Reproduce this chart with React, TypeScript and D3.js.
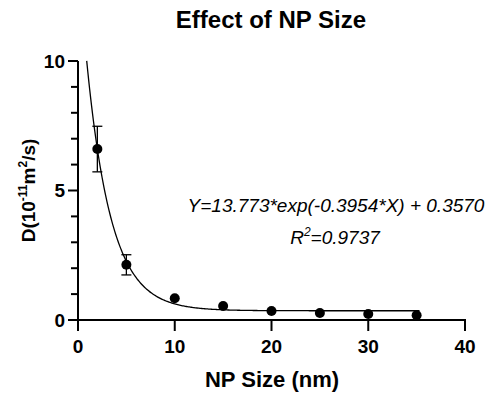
import React from 'react';
import * as d3 from 'd3';

// measured NP sizes (nm) and diffusion coefficients
const npSize = [2, 5, 10, 15, 20, 25, 30, 35];
const diffusion = [6.6, 2.13, 0.84, 0.54, 0.35, 0.27, 0.23, 0.18];
const errorBars = [0.88, 0.39, 0, 0, 0, 0, 0, 0];

// fitted one-phase decay, as printed on the chart
const fitParams = [13.773, 0.3954, 0.357];
const fitRange = [0.9, 35.3];

const xTicks = [0, 10, 20, 30, 40];
const yMajorTicks = [0, 5, 10];
const yMinorTicks = [1, 2, 3, 4, 6, 7, 8, 9];

const width = 489;
const height = 397;
const font = 'Arial, "Liberation Sans", sans-serif';

const App = () => {
    const x = d3.scaleLinear().domain([0, 40]).range([78, 465]);
    const y = d3.scaleLinear().domain([0, 10]).range([320, 61]);

    const fitPts = d3.range(fitRange[0], fitRange[1], 0.1).concat([fitRange[1]])
        .map(v => [v, fitParams[0] * Math.exp(-fitParams[1] * v) + fitParams[2]]);
    const line = d3.line().x(d => x(d[0])).y(d => y(d[1]));

    const pts = npSize.map((s, i) => ({ s, d: diffusion[i], e: errorBars[i] }));

    return (
        <svg width={width} height={height} style={{ position: 'absolute', left: 0, top: 0, background: '#fff' }}
            fontFamily={font}>
            <text x={271} y={28} textAnchor="middle" fontSize={24} fontWeight="bold">Effect of NP Size</text>

            {/* axes */}
            <line x1={x(0)} x2={x(0)} y1={y(10)} y2={y(0) + 1} stroke="#000" strokeWidth={2} />
            <line x1={x(0) - 1} x2={x(40) + 1} y1={y(0)} y2={y(0)} stroke="#000" strokeWidth={2} />
            {yMajorTicks.map(t => (
                <g key={'ym' + t}>
                    <line x1={x(0) - 10} x2={x(0)} y1={y(t)} y2={y(t)} stroke="#000" strokeWidth={2} />
                    <text x={x(0) - 13} y={y(t)} dy="0.36em" textAnchor="end" fontSize={19} fontWeight="bold">{t}</text>
                </g>
            ))}
            {yMinorTicks.map(t => (
                <line key={'yn' + t} x1={x(0) - 7} x2={x(0)} y1={y(t)} y2={y(t)} stroke="#000" strokeWidth={2} />
            ))}
            {xTicks.map(t => (
                <g key={'x' + t}>
                    <line x1={x(t)} x2={x(t)} y1={y(0)} y2={y(0) + 11} stroke="#000" strokeWidth={2} />
                    <text x={x(t)} y={353} textAnchor="middle" fontSize={19} fontWeight="bold">{t}</text>
                </g>
            ))}

            <text x={272} y={387} textAnchor="middle" fontSize={22} fontWeight="bold">NP Size (nm)</text>
            <text transform={`translate(35, ${(y(0) + y(10)) / 2}) rotate(-90)`} textAnchor="middle" fontSize={19} fontWeight="bold">
                D(10<tspan dy={-8} fontSize={12}>-11</tspan><tspan dy={8}>m</tspan><tspan dy={-8} fontSize={12}>2</tspan><tspan dy={8}>/s)</tspan>
            </text>

            {/* fit curve */}
            <path d={line(fitPts) || ''} fill="none" stroke="#000" strokeWidth={1.3} />

            {/* error bars */}
            {pts.filter(p => p.e > 0).map(p => (
                <g key={'e' + p.s} stroke="#000" strokeWidth={1.3}>
                    <line x1={x(p.s)} x2={x(p.s)} y1={y(p.d + p.e)} y2={y(p.d - p.e)} />
                    <line x1={x(p.s) - 5} x2={x(p.s) + 5} y1={y(p.d + p.e)} y2={y(p.d + p.e)} />
                    <line x1={x(p.s) - 5} x2={x(p.s) + 5} y1={y(p.d - p.e)} y2={y(p.d - p.e)} />
                </g>
            ))}
            {pts.map(p => (
                <circle key={'p' + p.s} cx={x(p.s)} cy={y(p.d)} r={5} fill="#000" />
            ))}

            <text x={336} y={212} textAnchor="middle" fontSize={19} fontStyle="italic">Y=13.773*exp(-0.3954*X) + 0.3570</text>
            <text x={335} y={244} textAnchor="middle" fontSize={19} fontStyle="italic">
                R<tspan dy={-8} fontSize={12}>2</tspan><tspan dy={8}>=0.9737</tspan>
            </text>
        </svg>
    );
};

export default App;
